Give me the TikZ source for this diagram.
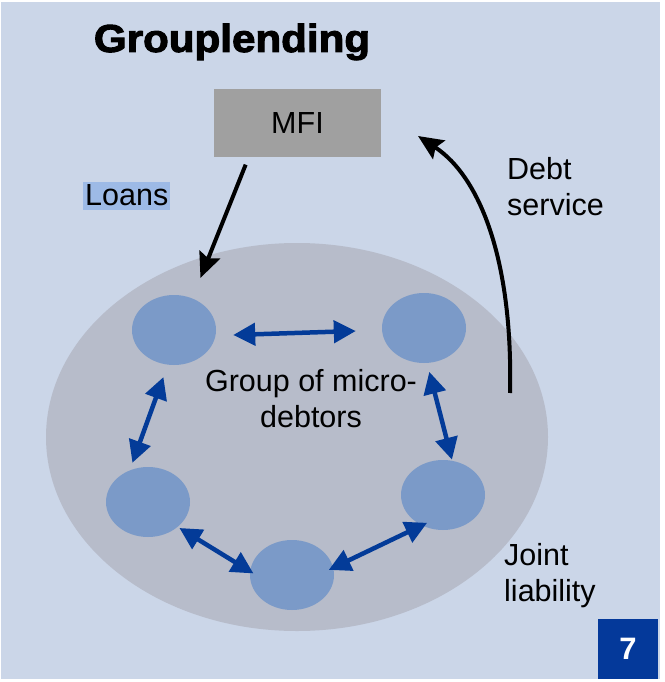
\documentclass[tikz,border=0pt]{standalone}
\usepackage{fontspec}
\setmainfont{Liberation Sans}
\usetikzlibrary{shapes.geometric,arrows.meta,calc}
\definecolor{bgblue}{HTML}{CBD6E8}
\definecolor{biggray}{HTML}{B7BCCA}
\definecolor{smallblue}{HTML}{7B9AC8}
\definecolor{arrowblue}{HTML}{033B98}
\definecolor{boxgray}{HTML}{A0A0A0}
\definecolor{hlblue}{HTML}{9DBAE6}
\definecolor{navy}{HTML}{04399A}
\tikzset{
  debtor/.style={ellipse, fill=smallblue, minimum width=84pt, minimum height=70pt, inner sep=0pt},
  barrow/.style={draw=arrowblue, line width=4.5pt, {Triangle[length=22pt,width=22pt]}-{Triangle[length=22pt,width=22pt]}},
  karrow/.style={draw=black, line width=4pt, -{Stealth[length=25pt,width=22pt,inset=4pt]}},
  body/.style={font=\fontsize{30.5}{36}\selectfont, inner sep=0pt},
}
\begin{document}
\begin{tikzpicture}[x=1pt,y=-1pt]
\useasboundingbox (0,0) rectangle (664,682);
\fill[white] (0,0) rectangle (664,682);
\fill[bgblue] (1,2) rectangle (660,679);
% title
\node[anchor=base, inner sep=0pt] (title) at (232,52)
  {\scalebox{1.08}[1]{\fontsize{39}{44}\selectfont\addfontfeature{FakeBold=2.5}\bfseries Grouplending}};
% MFI
\node[fill=boxgray, minimum width=167pt, minimum height=68pt, inner sep=0pt] (mfi) at (297.5,123) {};
\node[body, anchor=base] (mfitext) at (297.5,133) {MFI};
% big ellipse
\node[ellipse, fill=biggray, minimum width=502pt, minimum height=388pt, inner sep=0pt] (group) at (297,437) {};
% debtors
\node[debtor] (tl) at (174,330) {};
\node[debtor] (tr) at (424,328) {};
\node[debtor] (lb) at (148,502) {};
\node[debtor] (rb) at (443,495) {};
\node[debtor] (bot) at (292,575) {};
% labels
\node[body, align=center] (grouptext) at (311,399) {Group of micro-\\debtors};
\node[body, anchor=base west, fill=hlblue, inner xsep=2pt, inner ysep=0pt, text height=23pt, text depth=5pt] (loans) at (83,205) {Loans};
\node[body, anchor=west, align=left] (debt) at (507,187) {Debt\\service};
\node[body, anchor=west, align=left] (joint) at (504,576) {Joint\\liability};
\node[fill=navy, minimum size=60pt, inner sep=0pt, text=white, font=\fontsize{31}{34}\selectfont\bfseries] (seven) at (628,649) {7};
% blue arrows
\draw[barrow] ([yshift=-5pt,xshift=17pt]tl.east) -- ([yshift=-3pt,xshift=-26pt]tr.west);
\draw[barrow, shorten <=13pt, shorten >=8pt] (tl.260) -- (lb.120);
\draw[barrow, shorten <=9pt, shorten >=1pt] (tr.275) -- (rb.75);
\draw[barrow, shorten <=2pt, shorten >=-4pt] (lb.-40) -- (bot.175);
\draw[barrow, shorten <=-5pt, shorten >=-6pt] (bot.10) -- (rb.-125);
% black arrows
\draw[karrow, shorten <=8pt, shorten >=22pt] (mfi.-145) -- (tl.60);
\coordinate (dstart) at (510,393);
\coordinate (dend) at (418,136);
\draw[karrow] (dstart) .. controls (513,265) and (482,178) .. (dend);
\end{tikzpicture}
\end{document}
